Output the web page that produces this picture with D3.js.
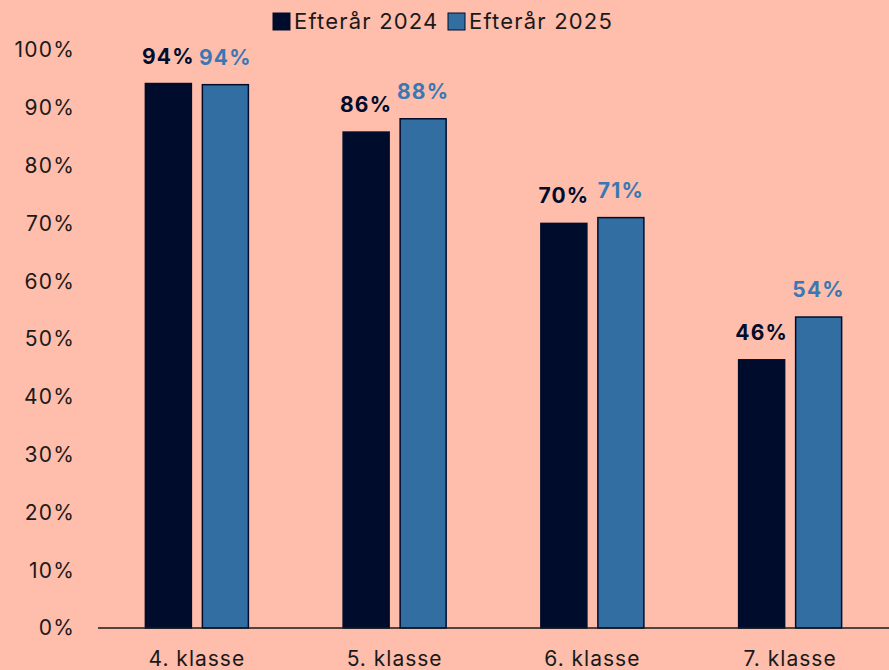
<!DOCTYPE html>
<html>
<head>
<meta charset="utf-8">
<script src="https://cdn.jsdelivr.net/npm/d3@7"></script>
<style>
  body { margin: 0; background: #ffbdab; }
  svg { display: block; font-family: Inter, "Noto Sans", sans-serif; }
</style>
</head>
<body>
<script>
var categories = ["4. klasse", "5. klasse", "6. klasse", "7. klasse"];
var seriesNames = ["Efterår 2024", "Efterår 2025"];
var values2024 = [94.2, 85.8, 70, 46.4];
var values2025 = [94, 88.1, 71, 53.8];
var yTicks = [0, 10, 20, 30, 40, 50, 60, 70, 80, 90, 100];
var colors = ["#000c2b", "#336ea3"];
var labelColors = ["#000c2b", "#3a78b4"];

var width = 889, height = 670;
var margin = {top: 50, right: 0, bottom: 42, left: 98};

var svg = d3.select("body").append("svg")
    .attr("width", width)
    .attr("height", height);

svg.append("rect").attr("width", width).attr("height", height).attr("fill", "#ffbdab");

var x = d3.scaleBand()
    .domain(categories)
    .range([margin.left, width - margin.right]);

var y = d3.scaleLinear()
    .domain([0, 100])
    .range([height - margin.bottom, margin.top]);

var barW = 46, gap = 11;
var xs = d3.scaleOrdinal().domain([0, 1]).range([-(gap / 2 + barW), gap / 2]);

// y labels
svg.append("g").selectAll("text")
    .data(yTicks)
    .enter().append("text")
    .attr("x", 75)
    .attr("y", function(d){ return y(d); })
    .attr("dy", "0.35em")
    .attr("text-anchor", "end")
    .attr("font-size", 21)
    .attr("letter-spacing", 1.2)
    .attr("fill", "#1a1a1a")
    .text(function(d){ return d + "%"; });

var series = [values2024, values2025];

series.forEach(function(vals, s){
    var g = svg.append("g");
    g.selectAll("rect")
        .data(vals)
        .enter().append("rect")
        .attr("x", function(d, i){ return x(categories[i]) + x.bandwidth() / 2 + xs(s); })
        .attr("y", function(d){ return y(d); })
        .attr("width", barW)
        .attr("height", function(d){ return y(0) - y(d); })
        .attr("fill", colors[s])
        .attr("stroke", "#000c2b")
        .attr("stroke-width", 1.5);
    g.selectAll("text")
        .data(vals)
        .enter().append("text")
        .attr("x", function(d, i){ return x(categories[i]) + x.bandwidth() / 2 + xs(s) + barW / 2; })
        .attr("y", function(d){ return y(d) - 20; })
        .attr("text-anchor", "middle")
        .attr("font-size", 21)
        .attr("font-weight", "bold")
        .attr("letter-spacing", 1.2)
        .attr("fill", labelColors[s])
        .text(function(d){ return Math.round(d) + "%"; });
});

// x axis line
svg.append("line")
    .attr("x1", margin.left).attr("x2", width)
    .attr("y1", y(0)).attr("y2", y(0))
    .attr("stroke", "#1a1a1a").attr("stroke-width", 1.5);

svg.append("g").selectAll("text")
    .data(categories)
    .enter().append("text")
    .attr("x", function(d){ return x(d) + x.bandwidth() / 2; })
    .attr("y", 666)
    .attr("text-anchor", "middle")
    .attr("font-size", 21)
    .attr("letter-spacing", 1)
    .attr("fill", "#1a1a1a")
    .text(function(d){ return d; });

// legend
var legendX = [273, 448];
var lg = svg.append("g").selectAll("g")
    .data(seriesNames)
    .enter().append("g")
    .attr("transform", function(d, i){ return "translate(" + legendX[i] + ",13)"; });
lg.append("rect")
    .attr("width", 17).attr("height", 17)
    .attr("fill", function(d, i){ return colors[i]; })
    .attr("stroke", "#000c2b").attr("stroke-width", 1);
lg.append("text")
    .attr("x", 21).attr("y", 8.5).attr("dy", "0.35em")
    .attr("font-size", 22)
    .attr("letter-spacing", 1.2)
    .attr("fill", "#1a1a1a")
    .text(function(d){ return d; });
</script>
</body>
</html>
